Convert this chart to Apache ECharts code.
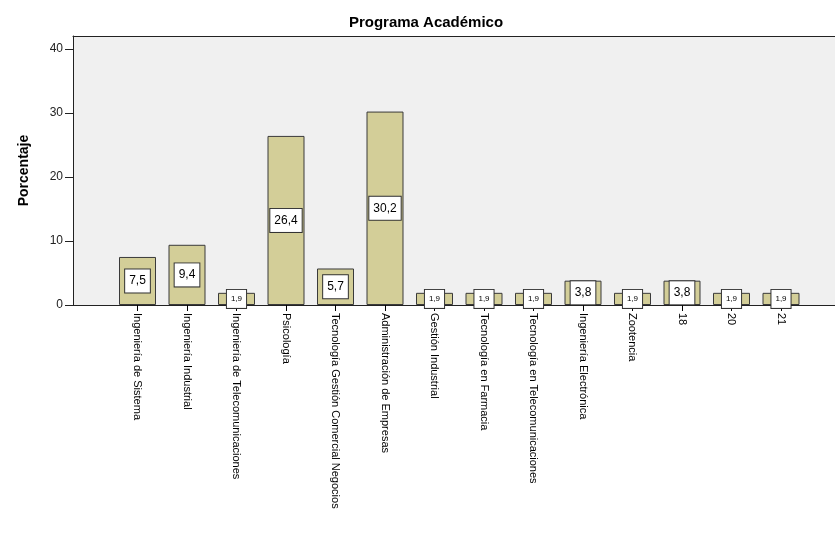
<!DOCTYPE html>
<html>
<head>
<meta charset="utf-8">
<script src="https://cdn.jsdelivr.net/npm/echarts@6/dist/echarts.min.js"></script>
<style>html,body{margin:0;padding:0;background:#fff;}#c{width:835px;height:537px;}</style>
</head>
<body>
<div id="c"></div>
<script>
const categories = ["Ingeniería de Sistema","Ingeniería Industrial","Ingeniería de Telecomunicaciones","Psicología","Tecnología Gestión Comercial Negocios","Administración de Empresas","Gestión Industrial","Tecnología en Farmacia","Tecnología en Telecomunicaciones","Ingeniería Electrónica","Zootencia","18","20","21"];
const percentages = [7.5, 9.4, 1.9, 26.4, 5.7, 30.2, 1.9, 1.9, 1.9, 3.8, 1.9, 3.8, 1.9, 1.9];
const yTicks = [0, 10, 20, 30, 40];
const yMax = 42;
const title = "Programa Académico";
const yName = "Porcentaje";

const FONT = 'Arial, "Liberation Sans", sans-serif';
const chart = echarts.init(document.getElementById('c'), null, {renderer: 'canvas'});

const bigLabel = {fontSize: 12, lineHeight: 13, padding: [5, 4, 5, 4]};
const smallLabel = {fontSize: 8, lineHeight: 10, padding: [4, 4, 4, 4]};
const frameAxis = pos => ({gridIndex: 0, type: 'value', min: 0, max: 1, position: pos,
  axisLine: {show: true, onZero: false, lineStyle: {color: '#222'}}, axisTick: {show: false},
  axisLabel: {show: false}, splitLine: {show: false}});

chart.setOption({
  animation: false,
  backgroundColor: '#ffffff',
  title: {
    text: title, left: 421, top: 10, textAlign: 'center',
    textStyle: {fontFamily: FONT, fontSize: 15, fontWeight: 'bold', color: '#000'}
  },
  grid: [
    {left: 73, right: 0, top: 36, bottom: 232, show: true, backgroundColor: '#F0F0F0', borderWidth: 0},
    {left: 112.75, width: 693, top: 36, bottom: 232}
  ],
  xAxis: [
    frameAxis('top'),
    {gridIndex: 1, type: 'category', data: categories,
     axisLine: {show: false},
     axisTick: {show: true, alignWithLabel: true, length: 6, lineStyle: {color: '#000'}},
     axisLabel: {rotate: -90, margin: 8, fontFamily: FONT, fontSize: 11, color: '#000', interval: 0}},
    frameAxis('bottom')
  ],
  yAxis: [
    {gridIndex: 0, type: 'value', min: 0, max: yMax, interval: 10,
     name: yName, nameLocation: 'middle', nameGap: 42, nameRotate: 90,
     nameTextStyle: {fontFamily: FONT, fontSize: 14, fontWeight: 'bold', color: '#000'},
     axisLine: {show: true, lineStyle: {color: '#222'}},
     axisTick: {show: true, length: 8, lineStyle: {color: '#222'}, customValues: yTicks},
     axisLabel: {fontFamily: FONT, fontSize: 12, color: '#222', margin: 10, customValues: yTicks},
     splitLine: {show: false}},
    {gridIndex: 1, type: 'value', min: 0, max: yMax, show: false, splitLine: {show: false}}
  ],
  series: [{
    type: 'bar', xAxisIndex: 1, yAxisIndex: 1,
    barWidth: 37,
    data: percentages.map(v => ({value: v, label: v < 2 ? smallLabel : bigLabel})),
    itemStyle: {color: '#D3CE98', borderColor: '#3a3a3a', borderWidth: 1},
    label: {
      show: true, position: 'inside', fontFamily: FONT, color: '#000',
      backgroundColor: '#ffffff', borderColor: '#333', borderWidth: 1,
      formatter: p => String(p.value.toFixed(1)).replace('.', ',')
    }
  }]
});
</script>
</body>
</html>
